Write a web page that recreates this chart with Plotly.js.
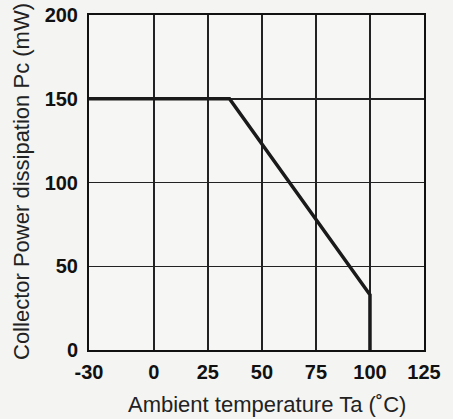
<!DOCTYPE html>
<html><head><meta charset="utf-8">
<script src="https://cdn.plot.ly/plotly-3.0.1.min.js"></script>
<style>html,body{margin:0;padding:0;background:#f4f4f2;}</style>
</head><body>
<div id="chart" style="width:453px;height:419px;"></div>
<script>
var temperature = [-30, 35, 100, 100];
var powerMW = [150, 150, 33, 0];
var xTicks = [-30, 0, 25, 50, 75, 100, 125];
var yTicks = [0, 50, 100, 150, 200];

var trace = {
  x: temperature, y: powerMW, mode: 'lines', type: 'scatter',
  line: {color: '#1a1a1a', width: 3.5}, hoverinfo: 'skip'
};
var F = 'Liberation Sans, Arial, sans-serif';
var layout = {
  width: 453, height: 419,
  margin: {l: 89, r: 29, t: 15, b: 69},
  paper_bgcolor: '#f4f4f2', plot_bgcolor: '#f6f6f4',
  showlegend: false,
  font: {family: F, color: '#111'},
  xaxis: {
    range: [-30, 125], tickvals: xTicks, ticktext: xTicks.map(String),
    showgrid: true, gridcolor: '#222', gridwidth: 1.5,
    showline: true, linecolor: '#111', linewidth: 2, mirror: true,
    zeroline: false, ticks: '', ticklen: 0, ticklabelstandoff: 3,
    tickfont: {size: 20, family: F, weight: 'bold', color: '#111'}
  },
  yaxis: {
    range: [0, 200], tickvals: yTicks,
    showgrid: true, gridcolor: '#222', gridwidth: 1.5,
    showline: true, linecolor: '#111', linewidth: 2, mirror: true,
    zeroline: false, ticks: '', ticklen: 0, ticklabelstandoff: 5,
    tickfont: {size: 20, family: F, weight: 'bold', color: '#111'}
  },
  annotations: [
    {text: 'Ambient temperature Ta (˚C)', xref: 'paper', yref: 'paper',
     x: (267 - 89) / 335, y: -(404 - 350) / 335, xanchor: 'center', yanchor: 'middle',
     showarrow: false, font: {size: 22, family: F, color: '#222'}},
    {text: 'Collector Power dissipation Pc (mW)', xref: 'paper', yref: 'paper',
     x: -(89 - 21) / 335, y: (350 - 182) / 335, xanchor: 'center', yanchor: 'middle', textangle: -90,
     showarrow: false, font: {size: 22, family: F, color: '#222'}}
  ]
};
Plotly.newPlot('chart', [trace], layout, {displayModeBar: false, staticPlot: true});
</script>
</body></html>
